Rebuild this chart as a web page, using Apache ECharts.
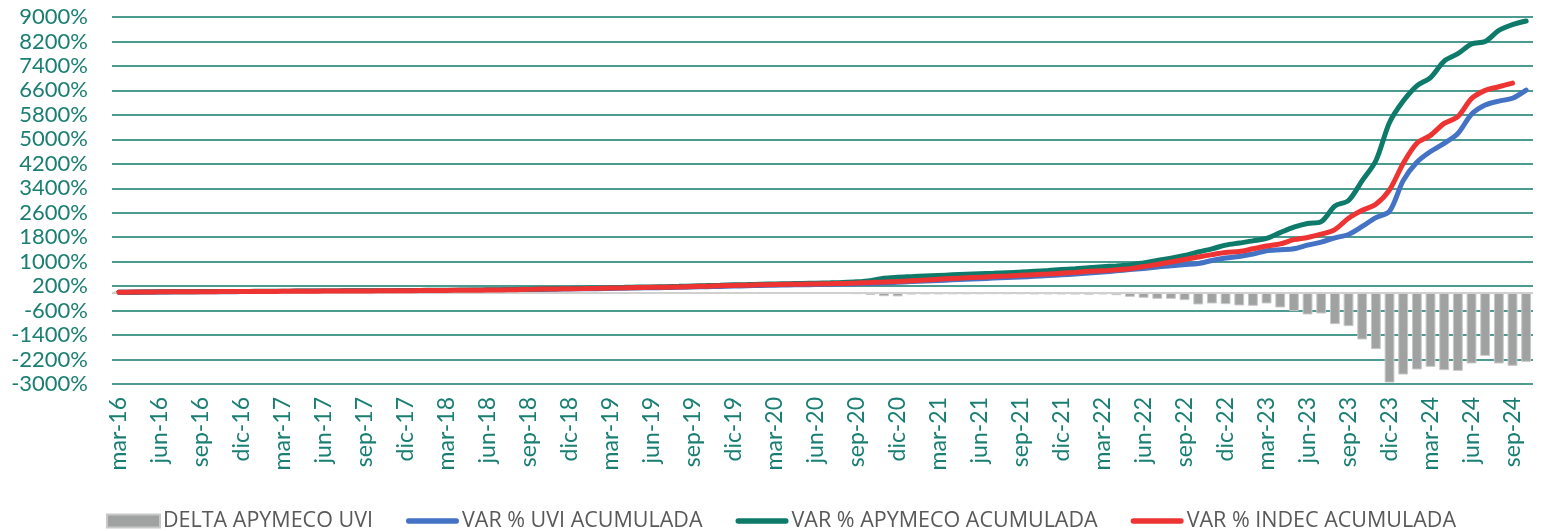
<!DOCTYPE html>
<html>
<head>
<meta charset="utf-8">
<script src="https://cdn.jsdelivr.net/npm/echarts@6/dist/echarts.min.js"></script>
<style>
html,body{margin:0;padding:0;background:#fff;}
#chart{width:1542px;height:531px;}
</style>
</head>
<body>
<div id="chart"></div>
<script>
// Months: mar-16 .. oct-24 (104 monthly categories)
const monthNames = ['ene','feb','mar','abr','may','jun','jul','ago','sep','oct','nov','dic'];
const categories = [];
for (let y = 2016, m = 2; !(y === 2024 && m === 10); ) {
  categories.push(monthNames[m] + '-' + String(y).slice(2));
  m++; if (m === 12) { m = 0; y++; }
}

const seriesNames = ['DELTA APYMECO UVI', 'VAR % UVI ACUMULADA', 'VAR % APYMECO ACUMULADA', 'VAR % INDEC ACUMULADA'];

const deltaApymecoUvi = [
  0,-2,-3,-3,-4,-4,-5,-6,-6,-6,
  -6,-7,-8,-8,-8,-8,-8,-8,-8,-8,
  -9,-11,-11,-11,-12,-13,-13,-14,-15,-17,
  -20,-20,-20,-18,-20,-24,-27,-27,-27,-27,
  -29,-33,-37,-36,-38,-41,-39,-40,-40,-40,
  -42,-45,-46,-50,-63,-90,-130,-135,-75,-70,
  -70,-68,-68,-65,-62,-65,-65,-70,-70,-72,
  -75,-80,-73,-95,-149,-182,-215,-215,-258,-400,
  -367,-389,-433,-444,-367,-498,-618,-727,-695,-1043,
  -1109,-1545,-1861,-2952,-2690,-2526,-2439,-2548,-2570,-2330,
  -2080,-2330,-2407,-2276
];

const varUviAcumulada = [
  0,2,6,10,13,15,16,17,19,21,
  23,24,26,29,32,34,36,38,40,42,
  44,46,49,52,55,58,62,66,70,75,
  82,92,100,108,113,118,125,133,141,148,
  153,160,170,182,192,202,213,222,232,240,
  246,252,260,268,277,290,305,325,348,368,
  385,405,425,445,462,480,500,520,545,570,
  598,630,665,700,740,780,825,870,905,940,
  1040,1120,1170,1250,1360,1390,1420,1540,1640,1780,
  1890,2150,2440,2650,3650,4250,4600,4870,5190,5820,
  6120,6250,6345,6610
];

const varApymecoAcumulada = [
  0,4,9,13,17,19,21,23,25,27,
  29,31,34,37,40,42,44,46,48,50,
  53,57,60,63,67,71,75,80,85,92,
  102,112,120,126,133,142,152,160,168,175,
  182,193,207,218,230,243,252,262,272,280,
  288,297,306,318,340,380,460,490,510,530,
  550,570,590,605,620,640,660,685,710,740,
  770,805,835,860,890,960,1040,1110,1200,1320,
  1420,1540,1610,1680,1760,1950,2130,2250,2310,2820,
  3000,3650,4300,5550,6250,6750,7020,7560,7800,8120,
  8200,8560,8750,8870
];

const varIndecAcumulada = [
  0,5,10,13,16,17,18,20,22,24,
  25,27,30,33,35,37,39,41,43,45,
  47,51,54,57,60,64,67,72,77,83,
  94,103,110,115,121,129,139,146,154,160,
  165,175,190,200,212,224,232,243,252,258,
  264,272,279,289,300,315,332,352,375,398,
  425,450,472,492,512,530,552,575,595,622,
  650,686,700,735,770,840,910,990,1070,1150,
  1230,1300,1330,1420,1510,1580,1720,1790,1900,2050,
  2420,2680,2880,3350,4210,4870,5130,5520,5740,6330,
  6600,6720,6840,null
];

const yMin = -3000, yMax = 9000, yInterval = 800;

const teal = '#0F7A6C';
const labelColor = '#1A7F72';
const lineIcon = 'path://M3,0 H57 A3,3 0 0 1 57,6 H3 A3,3 0 0 1 3,0 Z';

const chart = echarts.init(document.getElementById('chart'), null, {renderer: 'canvas'});
chart.setOption({
  animation: false,
  backgroundColor: '#ffffff',
  grid: {left: 112, right: 9, top: 17, bottom: 147, containLabel: false},
  legend: {
    left: 101, top: 505,
    itemWidth: 53, itemHeight: 13, itemGap: 33,
    symbolKeepAspect: true,
    textStyle: {color: '#595959', fontSize: 21.5, fontFamily: '"Liberation Sans Narrow", "Open Sans", sans-serif', padding: [0,0,0,-2]},
    data: [
      {name: seriesNames[0], icon: 'rect'},
      {name: seriesNames[1], icon: lineIcon},
      {name: seriesNames[2], icon: lineIcon},
      {name: seriesNames[3], icon: lineIcon}
    ]
  },
  xAxis: {
    type: 'category',
    data: categories,
    boundaryGap: true,
    axisLine: {show: false, onZero: false},
    axisTick: {show: false},
    axisLabel: {
      interval: 2, rotate: 90, margin: 13,
      color: labelColor, fontSize: 23, fontFamily: 'Lato, sans-serif'
    },
    splitLine: {show: false}
  },
  yAxis: {
    type: 'value',
    min: yMin, max: yMax, interval: yInterval,
    axisLine: {show: false},
    axisTick: {show: false},
    axisLabel: {
      margin: 24, color: labelColor, fontSize: 22, fontFamily: 'Lato, sans-serif',
      formatter: v => v + '%'
    },
    splitLine: {show: true, lineStyle: {color: teal, width: 1.5}}
  },
  series: [
    {
      name: seriesNames[0], type: 'bar', data: deltaApymecoUvi,
      barWidth: '72%',
      itemStyle: {color: '#A0A2A2', borderColor: '#C8C8C8', borderWidth: 1},
      markLine: {
        silent: true, symbol: 'none', label: {show: false},
        lineStyle: {color: '#D0D0D0', width: 2, type: 'solid'},
        data: [{yAxis: 0}]
      },
      z: 2
    },
    {
      name: seriesNames[1], type: 'line', data: varUviAcumulada,
      symbol: 'none', smooth: 0.3,
      lineStyle: {color: '#4472C4', width: 5, cap: 'round'},
      itemStyle: {color: '#4472C4'},
      z: 3
    },
    {
      name: seriesNames[2], type: 'line', data: varApymecoAcumulada,
      symbol: 'none', smooth: 0.3,
      lineStyle: {color: '#0E7A6A', width: 5, cap: 'round'},
      itemStyle: {color: '#0E7A6A'},
      z: 4
    },
    {
      name: seriesNames[3], type: 'line', data: varIndecAcumulada,
      symbol: 'none', smooth: 0.3,
      lineStyle: {color: '#EE3333', width: 5, cap: 'round'},
      itemStyle: {color: '#EE3333'},
      z: 5
    }
  ]
});
</script>
</body>
</html>
